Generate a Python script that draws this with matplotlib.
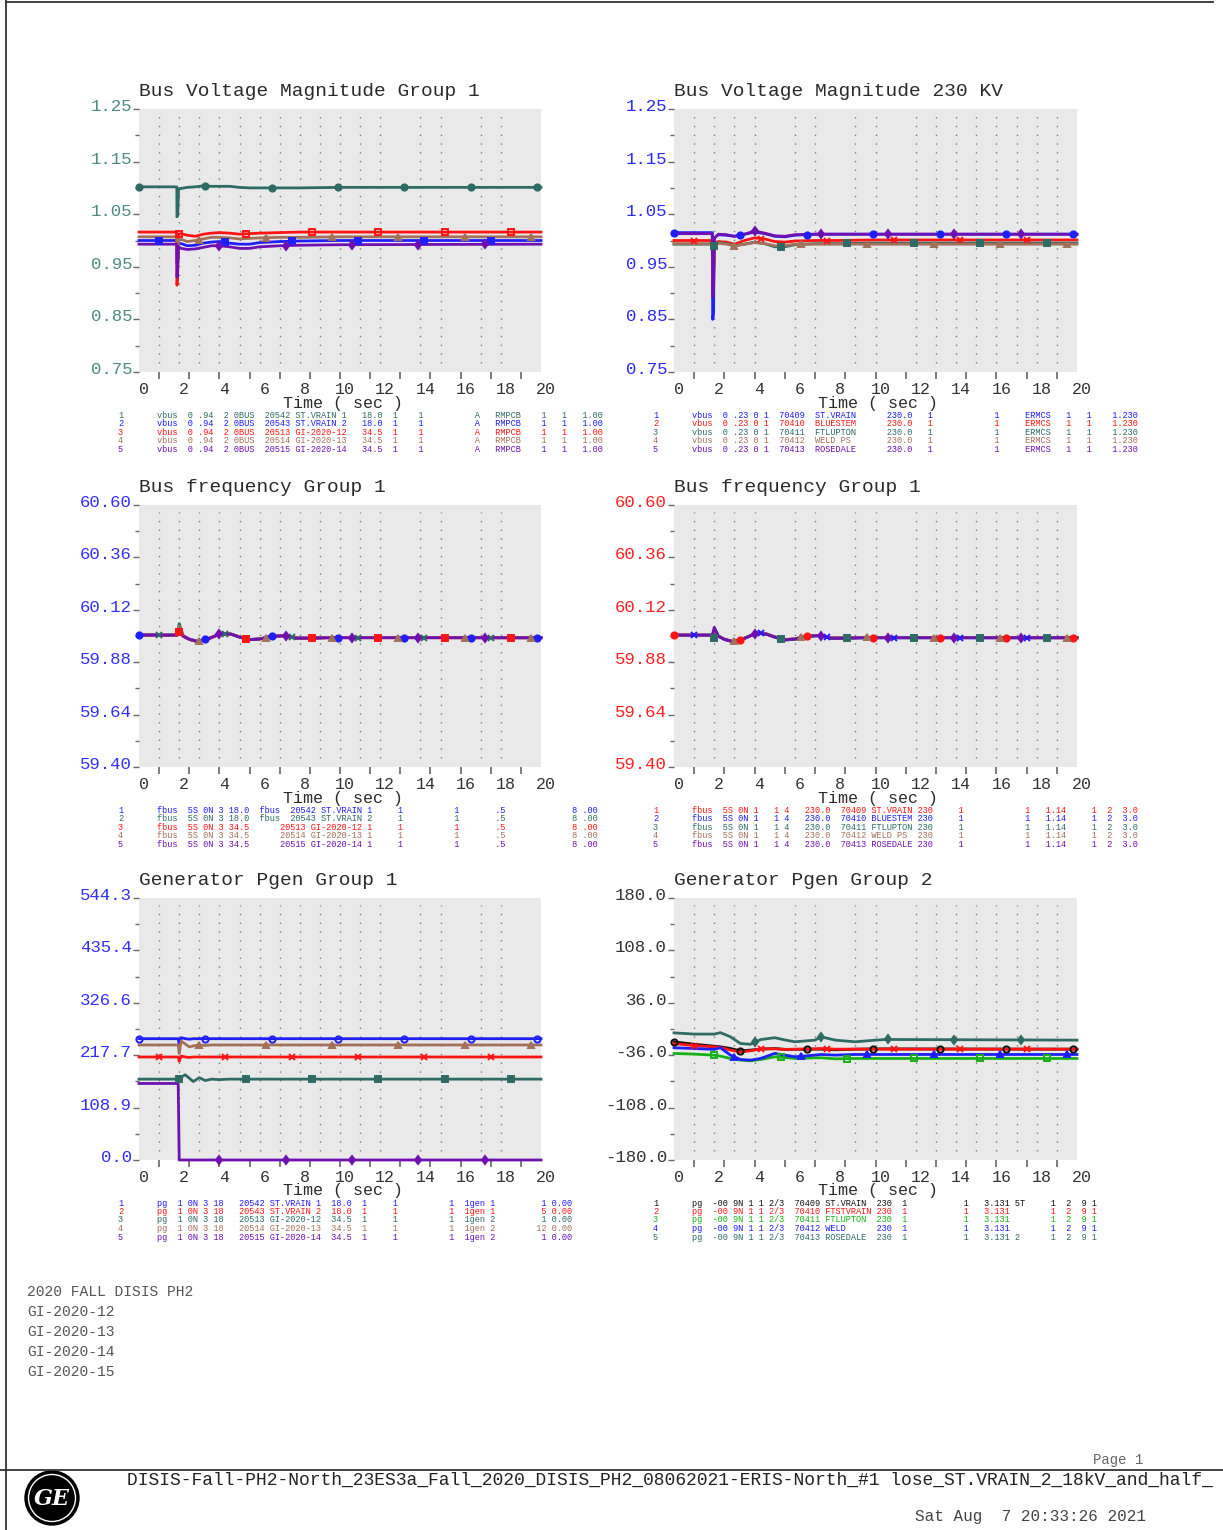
import numpy as np
import matplotlib
matplotlib.use("Agg")
import matplotlib.pyplot as plt
from matplotlib.patches import Circle
from matplotlib.transforms import ScaledTranslation

FIG_W, FIG_H = 1223, 1530
MONO = "Liberation Mono"

TEAL = "#2d6b64"
RED = "#ff1414"
BROWN = "#a3705a"
BLUE = "#1e1eff"
PURPLE = "#7010b0"
GREEN = "#18b018"
BLACK = "#111111"

# grid columns (seconds) that show up on each side of the page
grid_left = [1, 2, 3, 4, 5, 6, 7, 8, 9, 10, 11, 12, 14, 15, 17, 18]
grid_right = [1, 2, 3, 4, 6, 7, 9, 10, 12, 13, 14, 15, 16, 17, 18, 19]

# --- Bus Voltage Magnitude Group 1 (pu) ---
t_vm1 = [0, 1.88, 1.89, 1.93, 1.97, 2.1, 2.4, 2.8, 3.2, 3.6, 4.0, 4.5, 5.0, 5.5, 6.0, 7.0, 8.0, 10.0, 20.0]
vm1_teal = [1.102, 1.102, 1.045, 1.050, 1.098, 1.099, 1.101, 1.102, 1.104, 1.103, 1.103, 1.103, 1.101, 1.100, 1.100, 1.100, 1.100, 1.101, 1.101]
vm1_blue = [1.000, 1.000, 0.955, 0.960, 0.995, 0.994, 0.990, 0.991, 0.995, 0.997, 0.998, 0.995, 0.993, 0.993, 0.996, 0.998, 0.999, 1.000, 1.000]
vm1_red = [1.016, 1.016, 0.915, 0.944, 1.012, 1.013, 1.010, 1.008, 1.012, 1.014, 1.015, 1.014, 1.012, 1.013, 1.014, 1.015, 1.016, 1.016, 1.016]
vm1_brown = [1.007, 1.007, 0.970, 0.975, 1.000, 1.002, 0.998, 1.000, 1.003, 1.006, 1.006, 1.005, 1.003, 1.004, 1.005, 1.006, 1.006, 1.007, 1.007]
vm1_purple = [0.993, 0.993, 0.930, 0.957, 0.988, 0.985, 0.983, 0.984, 0.987, 0.990, 0.990, 0.988, 0.985, 0.985, 0.988, 0.990, 0.991, 0.992, 0.993]
vm1_yticks = [1.25, 1.15, 1.05, 0.95, 0.85, 0.75]
vm1_ylabels = ["1.25", "1.15", "1.05", "0.95", "0.85", "0.75"]
vm1_legend = [
    "vbus  0 .94  2 0BUS  20542 ST.VRAIN 1   18.0  1    1          A   RMPCB    1   1   1.00",
    "vbus  0 .94  2 0BUS  20543 ST.VRAIN 2   18.0  1    1          A   RMPCB    1   1   1.00",
    "vbus  0 .94  2 0BUS  20513 GI-2020-12   34.5  1    1          A   RMPCB    1   1   1.00",
    "vbus  0 .94  2 0BUS  20514 GI-2020-13   34.5  1    1          A   RMPCB    1   1   1.00",
    "vbus  0 .94  2 0BUS  20515 GI-2020-14   34.5  1    1          A   RMPCB    1   1   1.00",
]

# --- Bus Voltage Magnitude 230 KV (pu) ---
t_vm2 = [0, 1.9, 1.92, 1.96, 2.0, 2.2, 2.6, 3.0, 3.5, 4.0, 4.5, 5.0, 5.5, 6.0, 7.0, 8.0, 10.0, 20.0]
vm2_blue = [1.015, 1.015, 0.850, 0.860, 1.005, 1.011, 1.010, 1.008, 1.012, 1.016, 1.013, 1.008, 1.007, 1.010, 1.012, 1.012, 1.012, 1.012]
vm2_red = [1.000, 1.000, 0.930, 0.940, 0.995, 0.998, 0.997, 0.993, 1.000, 1.005, 1.003, 0.998, 0.997, 0.999, 1.000, 1.000, 1.001, 1.001]
vm2_teal = [0.993, 0.993, 0.920, 0.930, 0.990, 0.996, 0.994, 0.990, 0.993, 0.997, 0.994, 0.988, 0.988, 0.992, 0.994, 0.994, 0.995, 0.995]
vm2_brown = [0.994, 0.994, 0.925, 0.935, 0.990, 0.995, 0.993, 0.990, 0.993, 0.996, 0.994, 0.990, 0.990, 0.993, 0.993, 0.993, 0.993, 0.993]
vm2_purple = [1.013, 1.013, 0.893, 0.900, 1.004, 1.012, 1.011, 1.008, 1.012, 1.018, 1.014, 1.009, 1.008, 1.011, 1.012, 1.012, 1.012, 1.012]
vm2_legend = [
    "vbus  0 .23 0 1  70409  ST.VRAIN      230.0   1            1     ERMCS   1   1    1.230",
    "vbus  0 .23 0 1  70410  BLUESTEM      230.0   1            1     ERMCS   1   1    1.230",
    "vbus  0 .23 0 1  70411  FTLUPTON      230.0   1            1     ERMCS   1   1    1.230",
    "vbus  0 .23 0 1  70412  WELD PS       230.0   1            1     ERMCS   1   1    1.230",
    "vbus  0 .23 0 1  70413  ROSEDALE      230.0   1            1     ERMCS   1   1    1.230",
]

# --- Bus frequency (Hz) ---
t_fq = [0, 1.9, 2.0, 2.1, 2.2, 2.5, 2.9, 3.4, 4.1, 4.6, 5.0, 5.5, 6.0, 6.6, 7.2, 7.8, 8.4, 9.5, 11.0, 20.0]
f1_blue = [60.006, 60.004, 60.010, 60.015, 60.000, 59.986, 59.976, 59.986, 60.012, 60.008, 59.996, 59.984, 59.987, 59.998, 60.001, 59.991, 59.990, 59.993, 59.993, 59.992]
f1_teal = [60.004, 60.004, 60.057, 60.030, 60.002, 59.985, 59.975, 59.985, 60.013, 60.009, 59.995, 59.983, 59.986, 59.999, 60.002, 59.990, 59.990, 59.993, 59.993, 59.992]
f1_red = [60.004, 60.004, 60.020, 60.012, 59.998, 59.984, 59.974, 59.985, 60.011, 60.007, 59.995, 59.983, 59.986, 59.998, 60.000, 59.990, 59.990, 59.992, 59.992, 59.992]
f1_brown = [60.004, 60.004, 60.045, 60.025, 60.000, 59.985, 59.975, 59.986, 60.013, 60.008, 59.996, 59.984, 59.987, 59.999, 60.002, 59.991, 59.991, 59.993, 59.993, 59.992]
f1_purple = [60.004, 60.004, 60.012, 60.010, 59.999, 59.985, 59.975, 59.985, 60.012, 60.008, 59.995, 59.983, 59.986, 59.998, 60.001, 59.990, 59.990, 59.992, 59.992, 59.992]
f2_red = [60.005, 60.004, 60.008, 60.010, 60.000, 59.985, 59.975, 59.986, 60.014, 60.009, 59.996, 59.983, 59.987, 59.999, 60.002, 59.991, 59.991, 59.993, 59.993, 59.992]
f2_blue = [60.004, 60.004, 60.006, 60.010, 59.999, 59.984, 59.974, 59.985, 60.015, 60.009, 59.995, 59.982, 59.986, 59.999, 60.002, 59.990, 59.990, 59.992, 59.992, 59.992]
f2_teal = [60.003, 60.003, 59.990, 60.020, 60.000, 59.985, 59.975, 59.985, 60.013, 60.008, 59.994, 59.981, 59.985, 59.998, 60.001, 59.990, 59.990, 59.992, 59.992, 59.992]
f2_brown = [60.004, 60.004, 60.030, 60.020, 60.000, 59.986, 59.976, 59.987, 60.013, 60.009, 59.996, 59.984, 59.988, 60.000, 60.003, 59.992, 59.992, 59.994, 59.993, 59.992]
f2_purple = [60.004, 60.004, 60.040, 60.020, 59.999, 59.985, 59.975, 59.985, 60.013, 60.008, 59.995, 59.983, 59.986, 59.999, 60.002, 59.990, 59.990, 59.992, 59.992, 59.992]
fq_yticks = [60.60, 60.36, 60.12, 59.88, 59.64, 59.40]
fq_ylabels = ["60.60", "60.36", "60.12", "59.88", "59.64", "59.40"]
f1_legend = [
    "fbus  5S 0N 3 18.0  fbus  20542 ST.VRAIN 1     1          1       .5             8 .00",
    "fbus  5S 0N 3 18.0  fbus  20543 ST.VRAIN 2     1          1       .5             8 .00",
    "fbus  5S 0N 3 34.5      20513 GI-2020-12 1     1          1       .5             8 .00",
    "fbus  5S 0N 3 34.5      20514 GI-2020-13 1     1          1       .5             8 .00",
    "fbus  5S 0N 3 34.5      20515 GI-2020-14 1     1          1       .5             8 .00",
]
f2_legend = [
    "fbus  5S 0N 1   1 4   230.0  70409 ST.VRAIN 230     1            1   1.14     1  2  3.0",
    "fbus  5S 0N 1   1 4   230.0  70410 BLUESTEM 230     1            1   1.14     1  2  3.0",
    "fbus  5S 0N 1   1 4   230.0  70411 FTLUPTON 230     1            1   1.14     1  2  3.0",
    "fbus  5S 0N 1   1 4   230.0  70412 WELD PS  230     1            1   1.14     1  2  3.0",
    "fbus  5S 0N 1   1 4   230.0  70413 ROSEDALE 230     1            1   1.14     1  2  3.0",
]

# --- Generator Pgen Group 1 (MW) ---
t_pg1 = [0, 1.95, 2.0, 2.1, 2.3, 2.5, 2.7, 3.0, 3.3, 3.6, 4.0, 4.5, 5.0, 20.0]
pg1_blue = [252, 252, 240, 254, 252, 251, 252, 252, 252, 252, 252, 252, 252, 252]
pg1_red = [214, 214, 205, 216, 214, 213, 214, 214, 214, 214, 214, 214, 214, 214]
pg1_teal = [168, 168, 169, 172, 177, 170, 163, 171, 165, 168, 167, 168, 168, 168]
pg1_brown = [239, 239, 222, 247, 241, 235, 237, 239, 238, 239, 239, 239, 239, 239]
pg1_purple = [159, 159, 0, 0, 0, 0, 0, 0, 0, 0, 0, 0, 0, 0]
pg1_yticks = [544.3, 435.4, 326.6, 217.7, 108.9, 0.0]
pg1_ylabels = ["544.3", "435.4", "326.6", "217.7", "108.9", "0.0"]
pg1_legend = [
    "pg  1 0N 3 18   20542 ST.VRAIN 1  18.0  1     1          1  1gen 1         1 0.00",
    "pg  1 0N 3 18   20543 ST.VRAIN 2  18.0  1     1          1  1gen 1         5 0.00",
    "pg  1 0N 3 18   20513 GI-2020-12  34.5  1     1          1  1gen 2         1 0.00",
    "pg  1 0N 3 18   20514 GI-2020-13  34.5  1     1          1  1gen 2        12 0.00",
    "pg  1 0N 3 18   20515 GI-2020-14  34.5  1     1          1  1gen 2         1 0.00",
]

# --- Generator Pgen Group 2 (MW) ---
t_pg2 = [0, 1.0, 2.0, 2.3, 2.8, 3.3, 3.8, 4.3, 5.0, 5.5, 6.0, 7.0, 7.3, 8.0, 9.0, 10.0, 10.5, 20.0]
pg2_black = [-17.6, -21.0, -23.6, -24.5, -26.8, -30.0, -29.0, -27.7, -26.8, -28.0, -28.0, -27.7, -27.7, -28.5, -27.7, -27.3, -27.3, -27.7]
pg2_red = [-20.0, -22.9, -24.5, -25.5, -29.0, -31.7, -29.9, -27.3, -27.3, -28.0, -27.7, -27.3, -26.8, -27.7, -27.7, -27.7, -27.7, -27.7]
pg2_green = [-33.6, -34.5, -36.0, -37.3, -40.5, -42.8, -43.7, -41.9, -38.2, -39.1, -40.5, -39.6, -39.6, -41.0, -40.5, -40.5, -40.5, -40.5]
pg2_blue = [-25.8, -26.8, -28.0, -25.8, -35.9, -41.9, -42.8, -40.5, -33.5, -35.9, -38.2, -35.9, -35.0, -35.9, -35.0, -35.0, -35.0, -35.0]
pg2_teal = [-5.3, -7.0, -7.0, -5.0, -10.7, -20.0, -21.0, -14.5, -12.0, -15.0, -17.6, -15.3, -10.7, -15.3, -17.6, -15.3, -14.4, -15.3]
pg2_yticks = [180.0, 108.0, 36.0, -36.0, -108.0, -180.0]
pg2_ylabels = ["180.0", "108.0", "36.0", "-36.0", "-108.0", "-180.0"]
pg2_legend = [
    "pg  -00 9N 1 1 2/3  70409 ST.VRAIN  230  1           1   3.131 5T     1  2  9 1",
    "pg  -00 9N 1 1 2/3  70410 FTSTVRAIN 230  1           1   3.131        1  2  9 1",
    "pg  -00 9N 1 1 2/3  70411 FTLUPTON  230  1           1   3.131        1  2  9 1",
    "pg  -00 9N 1 1 2/3  70412 WELD      230  1           1   3.131        1  2  9 1",
    "pg  -00 9N 1 1 2/3  70413 ROSEDALE  230  1           1   3.131 2      1  2  9 1",
]

panels = [
    dict(box=(139, 109, 541, 372), title="Bus Voltage Magnitude Group 1", t=t_vm1,
         yticks=vm1_yticks, ylabels=vm1_ylabels, ycolor="#4d8a84", grid=grid_left,
         series=[(vm1_teal, TEAL, "o", True), (vm1_blue, BLUE, "s", True),
                 (vm1_red, RED, "s", False), (vm1_brown, BROWN, "^", True),
                 (vm1_purple, PURPLE, "d", True)],
         legend=vm1_legend),
    dict(box=(674, 109, 1077, 372), title="Bus Voltage Magnitude 230 KV", t=t_vm2,
         yticks=vm1_yticks, ylabels=vm1_ylabels, ycolor="#2a2aff", grid=grid_right,
         series=[(vm2_blue, BLUE, "o", True), (vm2_red, RED, "x", True),
                 (vm2_teal, TEAL, "s", True), (vm2_brown, BROWN, "^", True),
                 (vm2_purple, PURPLE, "d", True)],
         legend=vm2_legend),
    dict(box=(139, 505, 541, 767), title="Bus frequency Group 1", t=t_fq,
         yticks=fq_yticks, ylabels=fq_ylabels, ycolor="#3030ff", grid=grid_left,
         series=[(f1_blue, BLUE, "o", True), (f1_teal, TEAL, "x", True),
                 (f1_red, RED, "s", True), (f1_brown, BROWN, "^", True),
                 (f1_purple, PURPLE, "d", True)],
         legend=f1_legend),
    dict(box=(674, 505, 1077, 767), title="Bus frequency Group 1", t=t_fq,
         yticks=fq_yticks, ylabels=fq_ylabels, ycolor="#ff2020", grid=grid_right,
         series=[(f2_red, RED, "o", True), (f2_blue, BLUE, "x", True),
                 (f2_teal, TEAL, "s", True), (f2_brown, BROWN, "^", True),
                 (f2_purple, PURPLE, "d", True)],
         legend=f2_legend),
    dict(box=(139, 898, 541, 1160), title="Generator Pgen Group 1", t=t_pg1,
         yticks=pg1_yticks, ylabels=pg1_ylabels, ycolor="#3030ff", grid=grid_left,
         series=[(pg1_blue, BLUE, "o", False), (pg1_red, RED, "x", True),
                 (pg1_teal, TEAL, "s", True), (pg1_brown, BROWN, "^", True),
                 (pg1_purple, PURPLE, "d", True)],
         legend=pg1_legend),
    dict(box=(674, 898, 1077, 1160), title="Generator Pgen Group 2", t=t_pg2,
         yticks=pg2_yticks, ylabels=pg2_ylabels, ycolor="#333333", grid=grid_right,
         series=[(pg2_black, BLACK, "o", False), (pg2_red, RED, "x", True),
                 (pg2_green, GREEN, "s", False), (pg2_blue, BLUE, "^", True),
                 (pg2_teal, TEAL, "d", True)],
         legend=pg2_legend),
]

fig = plt.figure(figsize=(FIG_W / 100, FIG_H / 100), dpi=100)

# page layer in pixel coordinates (y grows downward)
page = fig.add_axes([0, 0, 1, 1])
page.set_xlim(0, FIG_W)
page.set_ylim(FIG_H, 0)
page.axis("off")


def draw_panel(p):
    x0, y0, x1, y1 = p["box"]
    ax = fig.add_axes([x0 / FIG_W, 1 - y1 / FIG_H, (x1 - x0) / FIG_W, (y1 - y0) / FIG_H])
    ax.set_facecolor("#e9e9e9")
    for sp in ax.spines.values():
        sp.set_visible(False)
    ax.set_xlim(0, 20)
    yt = np.array(p["yticks"])
    ax.set_ylim(yt[-1], yt[0])

    for g in p["grid"]:
        ax.plot([g, g], [0.035, 0.975], transform=ax.get_xaxis_transform(),
                color="#7a7a7a", lw=1.0, ls=(0, (1, 5.3)), zorder=1)

    for k, (vals, color, mk, filled) in enumerate(p["series"]):
        ax.plot(p["t"], vals, color=color, lw=2.0, zorder=3 + k, clip_on=False)
        mt = np.arange(k, 20.01, 3.3)
        ax.plot(mt, np.interp(mt, p["t"], vals), ls="none", marker=mk, ms=4.5,
                mec=color, mfc=color if filled else "none", mew=1.4,
                zorder=10 + k, clip_on=False)

    ax.set_yticks(yt)
    ax.set_yticklabels(p["ylabels"], fontfamily=MONO, fontsize=12.5, color=p["ycolor"])
    ax.set_yticks((yt[:-1] + yt[1:]) / 2, minor=True)
    ax.tick_params(axis="y", which="major", length=4, width=1, color="#666", pad=1)
    ax.tick_params(axis="y", which="minor", length=3, width=1, color="#666")
    up = ScaledTranslation(0, 4 / 100, fig.dpi_scale_trans)
    for lbl in ax.get_yticklabels():
        lbl.set_transform(lbl.get_transform() + up)

    ax.xaxis.remove_overlapping_locs = False
    ax.set_xticks(range(0, 21, 2))
    ax.set_xticklabels([str(v) for v in range(0, 21, 2)], fontfamily=MONO,
                       fontsize=12, color="#333")
    ax.set_xticks(np.arange(1, 20, 1.5), minor=True)
    ax.tick_params(axis="x", which="major", length=0, pad=7)
    ax.tick_params(axis="x", which="minor", length=5, width=1.2, color="#666")
    right = ScaledTranslation(5 / 100, 0, fig.dpi_scale_trans)
    for lbl in ax.get_xticklabels():
        lbl.set_transform(lbl.get_transform() + right)

    page.text(x0, y0 - 18, p["title"], family=MONO, fontsize=14, color="#2a2a2a",
              ha="left", va="center")
    page.text((x0 + x1) / 2 + 3, y1 + 31, "Time ( sec )", family=MONO, fontsize=12,
              color="#2a2a2a", ha="center", va="center")

    # series legend under the time axis
    for i, (row, s) in enumerate(zip(p["legend"], p["series"])):
        yy = y1 + 43 + 8.5 * i
        page.text(x0 - 21, yy, str(i + 1), family=MONO, fontsize=6.2, color=s[1],
                  ha="left", va="center")
        page.text(x0 + 18, yy, row, family=MONO, fontsize=6.2, color=s[1],
                  ha="left", va="center")


for p in panels:
    draw_panel(p)

# page frame
frame = dict(color="#333333", lw=1.3, clip_on=False)
page.plot([6, 1213], [2, 2], **frame)
page.plot([6, 6], [0, FIG_H], **frame)
page.plot([0, FIG_W], [1470, 1470], **frame)

case_notes = ["2020 FALL DISIS PH2", "GI-2020-12", "GI-2020-13", "GI-2020-14", "GI-2020-15"]
for i, note in enumerate(case_notes):
    page.text(27, 1292 + 20 * i, note, family=MONO, fontsize=10.5, color="#555",
              ha="left", va="center")

page.text(1093, 1460, "Page 1", family=MONO, fontsize=10, color="#666", ha="left", va="center")
page.text(127, 1480,
          "DISIS-Fall-PH2-North_23ES3a_Fall_2020_DISIS_PH2_08062021-ERIS-North_#1 lose_ST.VRAIN_2_18kV_and_half_",
          family=MONO, fontsize=13, color="#222", ha="left", va="center")
page.text(915, 1517, "Sat Aug  7 20:33:26 2021", family=MONO, fontsize=11.5, color="#444",
          ha="left", va="center")

# GE badge
page.add_patch(Circle((52, 1498), 27, color="black"))
page.add_patch(Circle((52, 1498), 23.5, fill=False, ec="white", lw=1.0))
page.text(52, 1499, "GE", color="white", fontsize=16, family="DejaVu Serif",
          style="italic", weight="bold", ha="center", va="center")

fig.savefig("out.png", dpi=100)
